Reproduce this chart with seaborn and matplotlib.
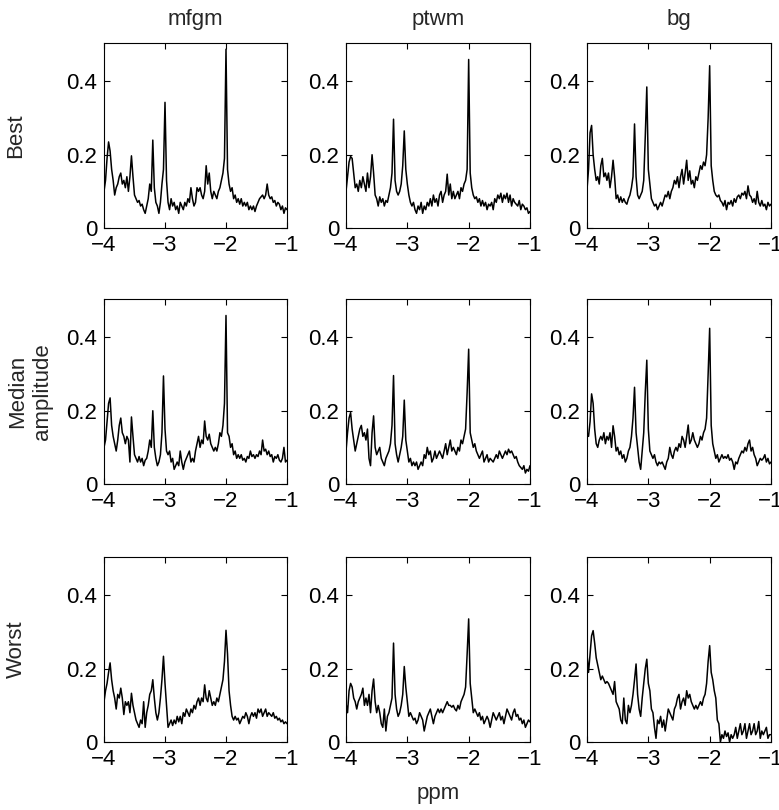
import numpy as np
import matplotlib
matplotlib.use("Agg")
import matplotlib.pyplot as plt
import seaborn as sns

# --------------------------------------------
# DATA (0.025 ppm grid)
# --------------------------------------------
ppm = np.round(np.linspace(-4, -1, 121), 3)

regions = ["mfgm", "ptwm", "bg"]
rank_labels = ["Best", "Median\namplitude", "Worst"]
x_ticks = [-4, -3, -2, -1]
y_ticks = [0, 0.2, 0.4]
y_tick_labels = ["0", "0.2", "0.4"]

best_mfgm = [
    0.10, 0.13, 0.19, 0.235, 0.21, 0.16, 0.13, 0.09, 0.11, 0.12,
    0.14, 0.15, 0.12, 0.13, 0.11, 0.14, 0.10, 0.14, 0.197, 0.14,
    0.09, 0.08, 0.07, 0.075, 0.06, 0.065, 0.05, 0.04, 0.06, 0.08,
    0.12, 0.10, 0.24, 0.11, 0.07, 0.06, 0.04, 0.07, 0.12, 0.16,
    0.343, 0.13, 0.07, 0.05, 0.08, 0.06, 0.07, 0.05, 0.06, 0.04,
    0.07, 0.06, 0.05, 0.07, 0.06, 0.08, 0.07, 0.11, 0.08, 0.06,
    0.07, 0.11, 0.10, 0.11, 0.09, 0.08, 0.10, 0.17, 0.12, 0.15,
    0.10, 0.08, 0.10, 0.09, 0.08, 0.10, 0.11, 0.13, 0.15, 0.19,
    0.488, 0.16, 0.12, 0.10, 0.11, 0.08, 0.09, 0.07, 0.08, 0.065,
    0.08, 0.06, 0.07, 0.06, 0.07, 0.05, 0.06, 0.05, 0.06, 0.045,
    0.06, 0.07, 0.08, 0.085, 0.09, 0.08, 0.09, 0.12, 0.09, 0.08,
    0.085, 0.07, 0.075, 0.06, 0.07, 0.065, 0.05, 0.06, 0.04, 0.055,
    0.05,
]
best_ptwm = [
    0.10, 0.14, 0.18, 0.195, 0.19, 0.15, 0.11, 0.12, 0.10, 0.13,
    0.11, 0.14, 0.12, 0.10, 0.15, 0.11, 0.14, 0.20, 0.15, 0.09,
    0.08, 0.06, 0.085, 0.07, 0.08, 0.06, 0.075, 0.07, 0.09, 0.11,
    0.15, 0.297, 0.13, 0.10, 0.09, 0.10, 0.12, 0.17, 0.265, 0.16,
    0.12, 0.09, 0.07, 0.06, 0.07, 0.05, 0.04, 0.06, 0.05, 0.07,
    0.04, 0.06, 0.05, 0.07, 0.06, 0.08, 0.06, 0.09, 0.07, 0.08,
    0.06, 0.09, 0.10, 0.07, 0.09, 0.10, 0.147, 0.09, 0.12, 0.08,
    0.10, 0.08, 0.09, 0.10, 0.08, 0.11, 0.10, 0.12, 0.13, 0.16,
    0.46, 0.15, 0.11, 0.09, 0.08, 0.085, 0.07, 0.08, 0.06, 0.075,
    0.06, 0.07, 0.05, 0.065, 0.06, 0.07, 0.05, 0.08, 0.07, 0.09,
    0.08, 0.095, 0.07, 0.09, 0.08, 0.095, 0.07, 0.09, 0.06, 0.08,
    0.07, 0.065, 0.06, 0.075, 0.05, 0.065, 0.06, 0.05, 0.055, 0.04,
    0.045,
]
best_bg = [
    0.105, 0.16, 0.26, 0.28, 0.20, 0.16, 0.13, 0.14, 0.12, 0.17,
    0.19, 0.14, 0.15, 0.13, 0.15, 0.11, 0.14, 0.185, 0.14, 0.08,
    0.09, 0.07, 0.085, 0.07, 0.08, 0.07, 0.065, 0.08, 0.09, 0.11,
    0.14, 0.284, 0.14, 0.09, 0.08, 0.09, 0.10, 0.13, 0.25, 0.385,
    0.16, 0.12, 0.08, 0.07, 0.06, 0.065, 0.05, 0.06, 0.07, 0.06,
    0.075, 0.09, 0.085, 0.10, 0.08, 0.10, 0.11, 0.13, 0.12, 0.14,
    0.11, 0.14, 0.16, 0.12, 0.15, 0.185, 0.13, 0.156, 0.12, 0.13,
    0.11, 0.14, 0.13, 0.15, 0.17, 0.16, 0.18, 0.17, 0.20, 0.30,
    0.443, 0.17, 0.13, 0.10, 0.09, 0.085, 0.09, 0.075, 0.07, 0.06,
    0.075, 0.05, 0.07, 0.065, 0.075, 0.06, 0.08, 0.07, 0.085, 0.09,
    0.08, 0.095, 0.09, 0.10, 0.08, 0.115, 0.09, 0.085, 0.07, 0.08,
    0.065, 0.10, 0.07, 0.06, 0.075, 0.06, 0.065, 0.05, 0.07, 0.06,
    0.065,
]
median_mfgm = [
    0.10, 0.12, 0.17, 0.22, 0.235, 0.16, 0.13, 0.11, 0.09, 0.12,
    0.16, 0.18, 0.14, 0.13, 0.11, 0.13, 0.12, 0.06, 0.183, 0.13,
    0.08, 0.07, 0.06, 0.075, 0.06, 0.07, 0.05, 0.065, 0.07, 0.09,
    0.12, 0.10, 0.20, 0.10, 0.07, 0.05, 0.06, 0.08, 0.14, 0.295,
    0.15, 0.09, 0.08, 0.09, 0.06, 0.07, 0.04, 0.05, 0.06, 0.05,
    0.09, 0.06, 0.04, 0.06, 0.07, 0.08, 0.09, 0.06, 0.07, 0.06,
    0.09, 0.11, 0.13, 0.10, 0.12, 0.11, 0.172, 0.13, 0.12, 0.136,
    0.11, 0.10, 0.09, 0.10, 0.09, 0.11, 0.14, 0.13, 0.16, 0.22,
    0.46, 0.14, 0.13, 0.10, 0.11, 0.08, 0.09, 0.07, 0.08, 0.07,
    0.08, 0.065, 0.07, 0.06, 0.075, 0.07, 0.09, 0.075, 0.08, 0.07,
    0.08, 0.075, 0.09, 0.08, 0.12, 0.09, 0.095, 0.08, 0.09, 0.075,
    0.08, 0.06, 0.075, 0.07, 0.08, 0.065, 0.06, 0.07, 0.10, 0.06,
    0.065,
]
median_ptwm = [
    0.09, 0.14, 0.18, 0.195, 0.15, 0.12, 0.09, 0.11, 0.13, 0.15,
    0.16, 0.13, 0.14, 0.12, 0.15, 0.07, 0.05, 0.14, 0.186, 0.10,
    0.08, 0.09, 0.10, 0.07, 0.06, 0.05, 0.07, 0.08, 0.09, 0.11,
    0.16, 0.296, 0.11, 0.08, 0.06, 0.08, 0.10, 0.13, 0.229, 0.12,
    0.09, 0.06, 0.07, 0.05, 0.06, 0.05, 0.06, 0.04, 0.05, 0.06,
    0.05, 0.08, 0.07, 0.10, 0.08, 0.09, 0.06, 0.07, 0.09, 0.07,
    0.08, 0.09, 0.08, 0.07, 0.09, 0.11, 0.08, 0.10, 0.12, 0.09,
    0.10, 0.09, 0.08, 0.10, 0.09, 0.12, 0.11, 0.13, 0.15, 0.25,
    0.368, 0.14, 0.12, 0.10, 0.11, 0.09, 0.08, 0.07, 0.08, 0.09,
    0.06, 0.07, 0.08, 0.06, 0.07, 0.065, 0.06, 0.07, 0.08, 0.07,
    0.09, 0.08, 0.07, 0.08, 0.09, 0.08, 0.095, 0.085, 0.09, 0.08,
    0.07, 0.075, 0.06, 0.05, 0.045, 0.04, 0.05, 0.03, 0.04, 0.035,
    0.05,
]
median_bg = [
    0.14, 0.13, 0.17, 0.246, 0.22, 0.15, 0.11, 0.10, 0.12, 0.13,
    0.12, 0.14, 0.11, 0.13, 0.12, 0.14, 0.10, 0.159, 0.13, 0.09,
    0.10, 0.08, 0.09, 0.07, 0.08, 0.06, 0.07, 0.09, 0.10, 0.13,
    0.18, 0.264, 0.14, 0.10, 0.06, 0.04, 0.09, 0.14, 0.25, 0.338,
    0.15, 0.09, 0.08, 0.07, 0.08, 0.06, 0.05, 0.06, 0.055, 0.06,
    0.05, 0.04, 0.06, 0.07, 0.10, 0.08, 0.07, 0.09, 0.10, 0.09,
    0.11, 0.10, 0.13, 0.12, 0.10, 0.13, 0.161, 0.11, 0.12, 0.14,
    0.12, 0.11, 0.10, 0.11, 0.13, 0.12, 0.14, 0.15, 0.18, 0.30,
    0.425, 0.16, 0.11, 0.09, 0.07, 0.08, 0.06, 0.07, 0.08, 0.07,
    0.075, 0.07, 0.08, 0.065, 0.07, 0.06, 0.04, 0.06, 0.055, 0.07,
    0.08, 0.09, 0.085, 0.10, 0.09, 0.11, 0.12, 0.09, 0.10, 0.08,
    0.07, 0.05, 0.06, 0.07, 0.065, 0.07, 0.08, 0.06, 0.07, 0.055,
    0.06,
]
worst_mfgm = [
    0.11, 0.14, 0.16, 0.19, 0.216, 0.17, 0.14, 0.12, 0.09, 0.13,
    0.12, 0.147, 0.12, 0.075, 0.11, 0.10, 0.11, 0.08, 0.133, 0.10,
    0.08, 0.06, 0.05, 0.04, 0.06, 0.05, 0.11, 0.04, 0.08, 0.10,
    0.13, 0.14, 0.17, 0.12, 0.08, 0.06, 0.08, 0.12, 0.17, 0.234,
    0.16, 0.10, 0.04, 0.05, 0.06, 0.045, 0.06, 0.05, 0.07, 0.055,
    0.07, 0.05, 0.08, 0.07, 0.09, 0.08, 0.07, 0.09, 0.08, 0.10,
    0.09, 0.11, 0.12, 0.10, 0.12, 0.11, 0.156, 0.12, 0.11, 0.14,
    0.12, 0.10, 0.11, 0.10, 0.12, 0.11, 0.13, 0.15, 0.17, 0.22,
    0.305, 0.24, 0.14, 0.10, 0.07, 0.06, 0.07, 0.06, 0.065, 0.05,
    0.06, 0.07, 0.065, 0.08, 0.07, 0.05, 0.07, 0.08, 0.07, 0.08,
    0.065, 0.09, 0.08, 0.09, 0.07, 0.08, 0.09, 0.07, 0.08, 0.075,
    0.07, 0.08, 0.065, 0.07, 0.06, 0.065, 0.055, 0.06, 0.05, 0.055,
    0.05,
]
worst_ptwm = [
    0.106, 0.08, 0.14, 0.16, 0.15, 0.12, 0.11, 0.09, 0.11, 0.12,
    0.13, 0.147, 0.10, 0.12, 0.10, 0.13, 0.08, 0.14, 0.172, 0.11,
    0.08, 0.10, 0.08, 0.05, 0.04, 0.09, 0.03, 0.07, 0.08, 0.10,
    0.12, 0.27, 0.13, 0.09, 0.07, 0.08, 0.10, 0.13, 0.206, 0.15,
    0.11, 0.07, 0.08, 0.07, 0.06, 0.065, 0.05, 0.06, 0.08, 0.07,
    0.06, 0.03, 0.05, 0.07, 0.08, 0.09, 0.07, 0.05, 0.07, 0.08,
    0.09, 0.08, 0.09, 0.08, 0.09, 0.10, 0.11, 0.10, 0.10, 0.095,
    0.10, 0.09, 0.085, 0.10, 0.09, 0.11, 0.12, 0.13, 0.15, 0.24,
    0.336, 0.16, 0.12, 0.08, 0.09, 0.08, 0.07, 0.08, 0.06, 0.07,
    0.05, 0.06, 0.07, 0.06, 0.04, 0.06, 0.08, 0.07, 0.06, 0.07,
    0.08, 0.06, 0.07, 0.05, 0.07, 0.09, 0.08, 0.07, 0.06, 0.08,
    0.09, 0.07, 0.075, 0.06, 0.065, 0.05, 0.06, 0.04, 0.05, 0.06,
    0.055,
]
worst_bg = [
    0.24, 0.19, 0.24, 0.29, 0.304, 0.27, 0.23, 0.21, 0.19, 0.17,
    0.18, 0.17, 0.16, 0.165, 0.16, 0.15, 0.14, 0.13, 0.165, 0.11,
    0.10, 0.09, 0.06, 0.05, 0.12, 0.06, 0.05, 0.10, 0.08, 0.10,
    0.13, 0.17, 0.213, 0.13, 0.09, 0.07, 0.12, 0.16, 0.20, 0.226,
    0.16, 0.14, 0.09, 0.08, 0.04, 0.01, 0.06, 0.05, 0.07, 0.04,
    0.06, 0.03, 0.06, 0.09, 0.08, 0.07, 0.06, 0.09, 0.10, 0.12,
    0.13, 0.09, 0.11, 0.12, 0.10, 0.14, 0.12, 0.13, 0.11, 0.10,
    0.09, 0.10, 0.09, 0.10, 0.11, 0.10, 0.12, 0.13, 0.16, 0.22,
    0.263, 0.19, 0.17, 0.14, 0.12, 0.06, 0.05, 0.00, 0.02, 0.01,
    0.03, 0.015, 0.025, 0.00, 0.02, 0.01, 0.02, 0.04, 0.01, 0.03,
    0.05, 0.02, 0.03, 0.05, 0.01, 0.03, 0.05, 0.02, 0.03, 0.05,
    0.02, 0.03, 0.056, 0.01, 0.03, 0.02, 0.03, 0.04, 0.01, 0.02,
    0.02,
]

spectra = [
    [best_mfgm, best_ptwm, best_bg],
    [median_mfgm, median_ptwm, median_bg],
    [worst_mfgm, worst_ptwm, worst_bg],
]

# --------------------------------------------
# STYLE
# --------------------------------------------
sns.set_style("ticks")
plt.rcParams["font.family"] = ["Liberation Sans", "DejaVu Sans"]
plt.rcParams["font.size"] = 16

W, H = 779, 810
fig = plt.figure(figsize=(W / 100, H / 100), dpi=100)

# panel layout in pixels
col_left = [104, 346, 587]
col_width = [183, 184, 184]
row_top = [43, 299, 557]
row_height = 185

for r in range(3):
    for c in range(3):
        ax = fig.add_axes([col_left[c] / W, 1 - (row_top[r] + row_height) / H,
                           col_width[c] / W, row_height / H])
        sns.lineplot(x=ppm, y=spectra[r][c], ax=ax, color="black",
                     linewidth=1.1, estimator=None)
        ax.set_xlim(-4, -1)
        ax.set_ylim(0, 0.505)
        ax.set_xticks(x_ticks)
        ax.set_yticks(y_ticks)
        ax.set_yticklabels(y_tick_labels)
        ax.tick_params(direction="in", top=True, right=True, length=4,
                       width=0.8, labelsize=16, pad=5, colors="black")
        for sp in ax.spines.values():
            sp.set_visible(True)
            sp.set_color("black")
            sp.set_linewidth(0.8)
        ax.set_xlabel("")
        ax.set_ylabel("")
        if r == 0:
            ax.set_title(regions[c], fontsize=16, pad=13)

# row labels
row_label_x = [16, 30, 16]
for r in range(3):
    yc = row_top[r] + row_height / 2
    fig.text(row_label_x[r] / W, 1 - yc / H, rank_labels[r], rotation=90,
             ha="center", va="center", fontsize=16, multialignment="center")

fig.text(438 / W, 1 - 794 / H, "ppm", ha="center", va="center", fontsize=16)

fig.savefig("out.png", dpi=100)
